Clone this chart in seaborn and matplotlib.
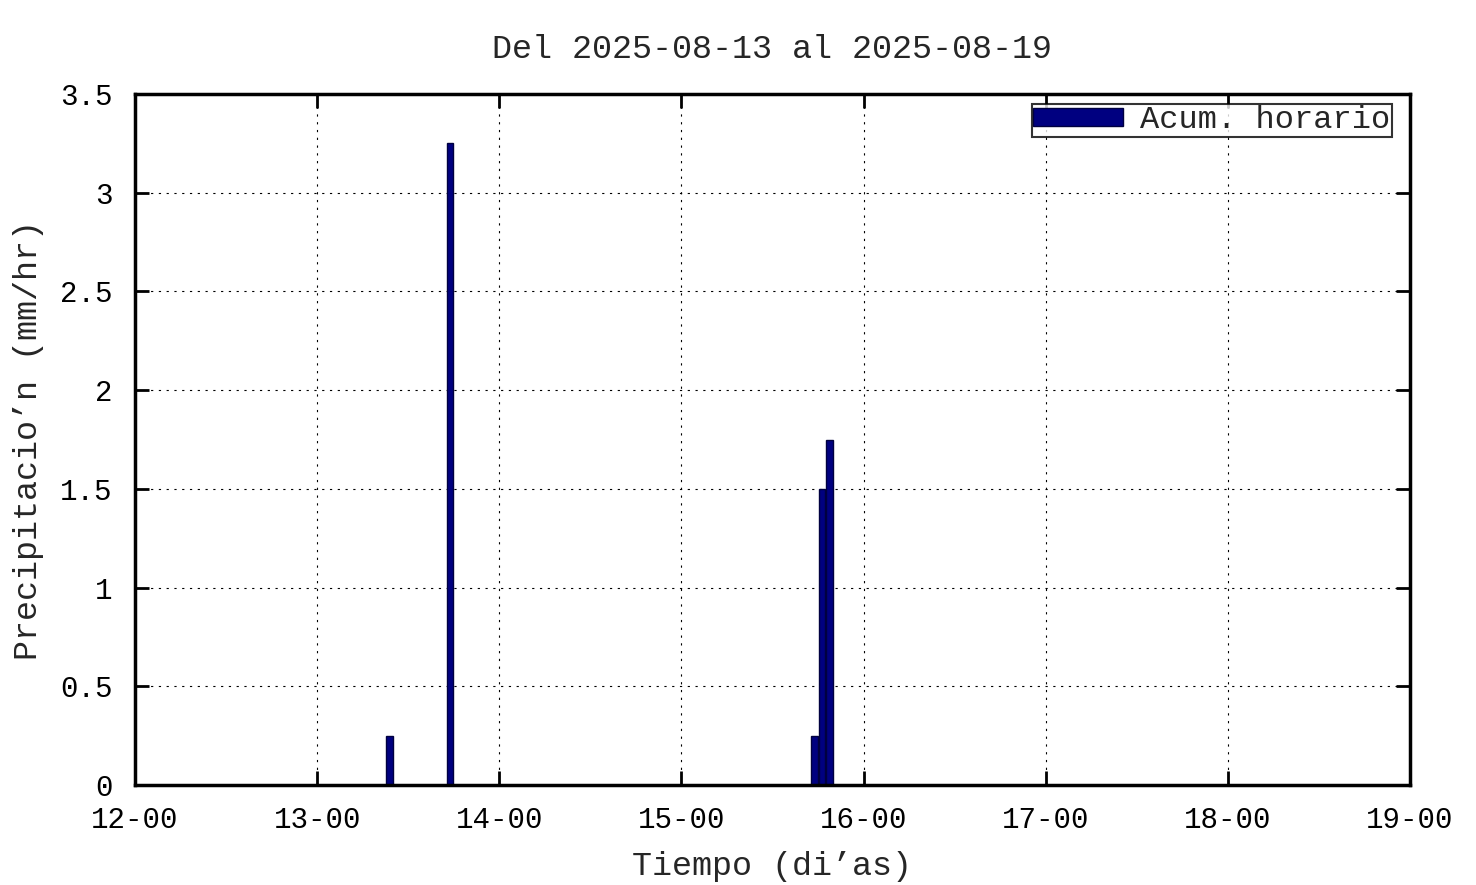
import pandas as pd
import matplotlib
matplotlib.use("Agg")
import matplotlib.pyplot as plt
import matplotlib.dates as mdates
import seaborn as sns

# hourly accumulated precipitation (bars centred on the half hour)
times = ["2025-08-13 09:30", "2025-08-13 17:30",
         "2025-08-15 17:30", "2025-08-15 18:30", "2025-08-15 19:30"]
precip = [0.25, 3.25, 0.25, 1.5, 1.75]

x_start = "2025-08-12"
x_end = "2025-08-19"
y_ticks = [0, 0.5, 1, 1.5, 2, 2.5, 3, 3.5]

df = pd.DataFrame({"t": mdates.date2num(pd.to_datetime(times)), "p": precip})
x0 = mdates.date2num(pd.Timestamp(x_start))
x1 = mdates.date2num(pd.Timestamp(x_end))

sns.set_style("ticks")
plt.rcParams["font.family"] = ["Liberation Mono", "DejaVu Sans Mono"]

fig = plt.figure(figsize=(14.76, 8.85), dpi=100)
ax = fig.add_axes([135 / 1476, 1 - 785 / 885, 1275 / 1476, 691 / 885])

sns.histplot(data=df, x="t", weights="p", binwidth=1 / 24, binrange=(x0, x1),
             shrink=0.87, color="#000080", edgecolor="#000040", linewidth=1,
             alpha=1, ax=ax, label="Acum. horario")

ax.set_xlim(x0, x1)
ax.set_ylim(0, 3.5)
ax.set_yticks(y_ticks)
ax.set_yticklabels(["0", "0.5", "1", "1.5", "2", "2.5", "3", "3.5"])
ax.xaxis.set_major_locator(mdates.DayLocator())
ax.xaxis.set_major_formatter(mdates.DateFormatter("%d-%H"))

ax.grid(True, color="black", linestyle=(0, (2, 5)), linewidth=0.8)
ax.set_axisbelow(True)
ax.tick_params(direction="in", length=10, width=2, top=True, right=True,
               labelsize=21, colors="black")
ax.tick_params(axis="x", pad=15)
ax.tick_params(axis="y", pad=16)
for s in ax.spines.values():
    s.set_linewidth(2.5)
    s.set_color("black")

ax.set_title("Del 2025-08-13 al 2025-08-19", fontsize=24, pad=26)
ax.set_xlabel("Tiempo (di’as)", fontsize=24, labelpad=12)
ax.set_ylabel("Precipitacio’n (mm/hr)", fontsize=24, labelpad=12)

leg = ax.legend(loc="upper right", bbox_to_anchor=(0.986, 0.986),
                fontsize=23, frameon=True, fancybox=False,
                handlelength=2.8, handleheight=0.5, borderpad=0.05,
                handletextpad=0.55, borderaxespad=0)
leg.get_frame().set_edgecolor("black")
leg.get_frame().set_linewidth(1.5)

fig.savefig("out.png", dpi=100)
